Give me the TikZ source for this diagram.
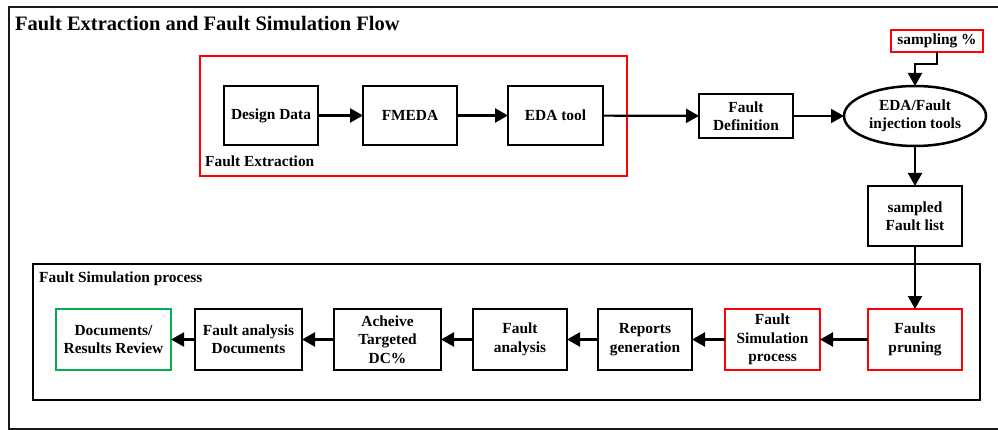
\documentclass[tikz,border=0pt]{standalone}
\usepackage{fontspec}
\setmainfont{Liberation Serif}
\usetikzlibrary{arrows.meta,shapes.geometric}
\definecolor{redc}{RGB}{255,0,0}
\definecolor{greenc}{RGB}{0,176,80}
\begin{document}
\begin{tikzpicture}[x=1pt,y=-1pt,
  txt/.style={font=\bfseries\fontsize{15.4}{18.4}\selectfont},
  box/.style={txt, draw, line width=2.5pt, rectangle, inner sep=0pt, outer sep=0pt, align=center, minimum height=59pt, minimum width=94pt},
  redbox/.style={box, draw=redc, line width=2.2pt},
  greenbox/.style={box, draw=greenc, line width=2.5pt},
  arr/.style={line width=2.2pt, -{Triangle[length=13pt,width=14pt]}},
  frame/.style={line width=2pt},
  lbl/.style={txt, anchor=base west, inner sep=0pt}
]
\useasboundingbox (0,0) rectangle (998,430);
% outer frame
\draw[frame, black!90] (9,7) rectangle (1010,429);
\node[anchor=base west, inner sep=0pt, font=\bfseries\fontsize{20.5}{24}\selectfont] (title) at (15,30.5) {Fault Extraction and Fault Simulation Flow};

% Fault extraction group
\draw[line width=2.2pt, draw=redc] (200,56) rectangle (627,176);
\node[lbl] (fextr) at (205,166.5) {Fault Extraction};
\node[box] (dd) at (271,115.5) {Design Data};
\node[box] (fmeda) at (410,115.5) {FMEDA};
\node[box, minimum width=95pt] (eda) at (555.5,115.5) {EDA tool};

\node[box, minimum height=44pt] (fdef) at (746,116) {Fault\\Definition};
\node[txt, draw, ellipse, line width=2.5pt, inner sep=0pt, outer sep=0pt, minimum width=142pt, minimum height=60pt, align=center] (inj) at (915,116) {EDA/Fault\\injection tools};
\node[redbox, minimum width=92pt, minimum height=22pt] (samp) at (937,41) {sampling \%};
\node[box, minimum height=60pt] (sfl) at (915,216) {sampled\\Fault list};

% Fault simulation group
\draw[frame] (33,264) rectangle (980,400);
\node[lbl] (fsimlbl) at (39,283) {Fault Simulation process};

\node[greenbox, minimum width=115pt, minimum height=61pt] (docs) at (113.5,339.5) {Documents/\\Results Review};
\node[box, minimum width=107pt, minimum height=61pt] (fadoc) at (248.5,339.5) {Fault analysis\\Documents};
\node[box, minimum width=107pt, minimum height=61pt] (dc) at (387.5,339.5) {Acheive\\Targeted\\DC\%};
\node[box, minimum height=61pt] (fa) at (520,339.5) {Fault\\analysis};
\node[box, minimum height=61pt] (rep) at (645,339.5) {Reports\\generation};
\node[redbox, minimum width=95pt, minimum height=61pt] (fsp) at (772.5,339.5) {Fault\\Simulation\\process};
\node[redbox, minimum height=61pt] (prune) at (915,339.5) {Faults\\pruning};

% connectors
\draw[arr] (dd) -- (fmeda);
\draw[arr] (fmeda) -- (eda);
\draw[arr] (eda) -- (fdef);
\draw[arr] (fdef) -- (inj);
\draw[arr] (samp.south) -- ++(0,12) -| (inj.north);
\draw[arr] (inj) -- (sfl);
\draw[arr] (sfl) -- (prune);
\draw[arr] (prune) -- (fsp);
\draw[arr] (fsp) -- (rep);
\draw[arr] (rep) -- (fa);
\draw[arr] (fa) -- (dc);
\draw[arr] (dc) -- (fadoc);
\draw[arr] (fadoc) -- (docs);
\end{tikzpicture}
\end{document}
